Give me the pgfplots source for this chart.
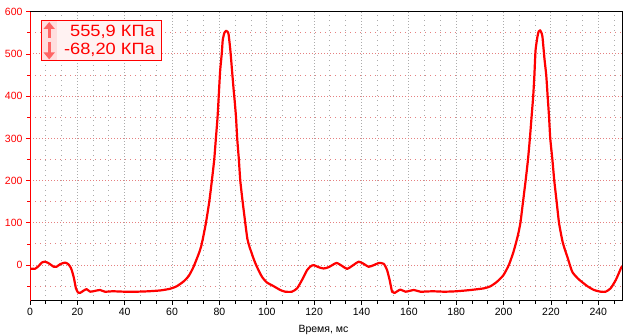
\documentclass[border=0pt]{standalone}
\usepackage{fontspec}
\setmainfont{Liberation Sans}
\usepackage{pgfplots}
\pgfplotsset{compat=1.18}
\usetikzlibrary{calc,arrows.meta}
\definecolor{gridgray}{HTML}{ABABAB}
\definecolor{gridpink}{HTML}{E58080}
\definecolor{boxfill}{HTML}{FFF2F2}
\definecolor{colfill}{HTML}{FFDEDE}
\definecolor{arrowred}{HTML}{FF6464}
\begin{document}
\begin{tikzpicture}
\begin{axis}[
  name=ax,
  at={(0,0)}, anchor=south west,
  scale only axis,
  width=592pt, height=289.3pt,
  xmin=0, xmax=250, ymin=-85, ymax=600,
  xtick={0,20,...,240},
  ytick={0,100,...,600},
  minor xtick={6.667,13.333,26.667,33.333,46.667,53.333,66.667,73.333,86.667,93.333,106.667,113.333,126.667,133.333,146.667,153.333,166.667,173.333,186.667,193.333,206.667,213.333,226.667,233.333,246.667},
  minor ytick={-50,50,150,250,350,450,550},
  grid=both,
  major x grid style={gridgray, line width=1pt, dash pattern=on 1pt off 2pt},
  minor x grid style={gridgray, line width=1pt, dash pattern=on 1pt off 4pt},
  major y grid style={gridpink, line width=1pt, dash pattern=on 1pt off 2pt},
  minor y grid style={gridpink, line width=1pt, dash pattern=on 1pt off 4pt},
  tick align=outside,
  xtick pos=bottom, ytick pos=left,
  major tick length=4pt, minor tick length=3pt,
  x tick style={black, line width=0.8pt},
  y tick style={red, line width=0.8pt},
  axis line style={black, line width=1pt},
  /pgf/number format/assume math mode=true,
  /pgf/number format/1000 sep={},
  ticklabel style={font=\fontsize{10.5}{12}\selectfont},
  yticklabel style={red},
  xticklabel style={black},
  xlabel={Время, мс},
  xlabel style={at={(rel axis cs:0.5,0)}, anchor=north, inner sep=0pt, yshift=-24pt, xshift=-2.5pt, font=\fontsize{10.5}{12}\selectfont},
]
\addplot[red, line width=2.2pt, line join=round, smooth, tension=0.35] coordinates {
(0,-8) (2,-9) (3.5,-3) (5,6) (6.3,8) (7.7,5) (9,0) (10,-4) (11.2,-4) (12.7,2)
(14.8,6) (16.2,2) (17.2,-6) (17.8,-15) (18.6,-32) (19.4,-55) (20.3,-65) (21.1,-66)
(22.5,-61) (23.9,-57) (25.4,-63) (27.5,-61) (29.6,-59) (31.7,-63) (35,-62) (40,-63)
(45,-63) (50,-62) (55,-60) (59.2,-56) (62,-50) (64.8,-39) (67,-26) (69,-5) (71.2,26)
(72.3,45) (73.2,68) (74.3,100) (75.7,150) (76.8,200) (77.8,250) (78.5,300) (79.2,350) (79.7,400)
(80.3,460) (81.0,502) (81.4,533) (82.1,550) (82.9,555) (83.5,552) (83.9,545) (84.6,509)
(85.3,462) (86.0,415) (86.4,391) (87.0,350) (87.5,300) (88.2,250) (88.8,200) (89.8,150)
(90.9,100) (91.8,62) (92.6,45) (93.5,30) (94.3,17) (95.2,4) (96.5,-12) (98,-28) (100,-41) (102.9,-50)
(105.7,-59) (107.8,-63) (110.6,-63) (112.8,-55) (114.9,-35) (117,-12) (118.5,-3)
(119.8,0) (121.9,-5) (124,-8) (126.1,-5) (129.4,5) (131.8,-2) (133.9,-9) (136,-2)
(138.8,8) (140.9,3) (143,-4) (145.2,0) (147.3,5) (149.4,3) (150.8,-12) (151.9,-36)
(152.9,-63) (153.9,-66) (156.4,-58) (158.6,-63) (162.1,-59) (164.9,-63) (170,-62)
(175,-63) (180,-62) (186,-59) (191.7,-55) (194.5,-50) (197.3,-39) (199.9,-24) (202.2,0)
(204.1,30) (205.2,52) (206.1,72) (207.1,100) (208.2,150) (209.3,200) (210.3,250) (211.1,300)
(211.8,350) (212.5,400) (213.0,450) (213.5,509) (214.3,541) (214.8,553) (215.4,556)
(216.0,550) (216.4,541) (216.8,517) (217.3,486) (218.0,450) (218.6,400) (219.2,350)
(219.7,300) (220.6,250) (221.4,200) (222.4,150) (223.4,100) (224.8,58) (225.8,38) (226.9,20)
(229,-16) (231.8,-34) (235.4,-50) (238.2,-59) (241,-63) (243.1,-63) (245.2,-55)
(247.4,-35) (249.5,-8) (250,-3)
};
\end{axis}
\draw[red, line width=1pt] (ax.south west) -- (ax.north west);
% annotation box
\coordinate (o) at (ax.north west);
\draw[red, line width=0.9pt, fill=boxfill] ($(o)+(11.7pt,-9pt)$) rectangle ($(o)+(131.7pt,-49pt)$);
\fill[colfill] ($(o)+(12.2pt,-9.5pt)$) rectangle ($(o)+(27pt,-48.5pt)$);
\draw[arrowred, line width=3pt, -{Triangle[width=11pt,length=7pt]}] ($(o)+(19.2pt,-26pt)$) -- ($(o)+(19.2pt,-10.3pt)$);
\draw[arrowred, line width=3pt, -{Triangle[width=11pt,length=7pt]}] ($(o)+(19.2pt,-30pt)$) -- ($(o)+(19.2pt,-47.7pt)$);
\node[anchor=base east, inner sep=0pt, text=red, font=\fontsize{16.3}{18}\selectfont] at ($(o)+(125pt,-25pt)$) {\scalebox{1.12}[1]{555,9 КПа}};
\node[anchor=base east, inner sep=0pt, text=red, font=\fontsize{16.3}{18}\selectfont] at ($(o)+(125pt,-42.8pt)$) {\scalebox{1.12}[1]{-68,20 КПа}};
\pgfresetboundingbox
\path[use as bounding box] ($(ax.south west)+(-30pt,-35pt)$) rectangle ($(ax.north east)+(10pt,11.7pt)$);
\end{tikzpicture}
\end{document}
